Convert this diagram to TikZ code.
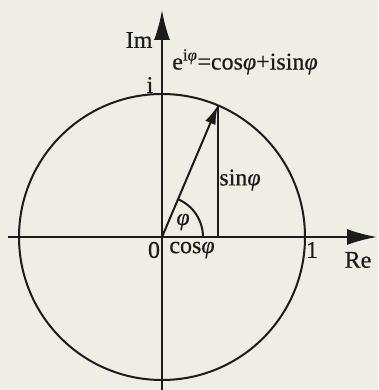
\documentclass[tikz,border=0pt]{standalone}
\usepackage{fontspec}
\setmainfont{Liberation Serif}[FakeBold=0.5]
\usetikzlibrary{arrows.meta}

\definecolor{paper}{RGB}{239,238,228}
\definecolor{ink}{RGB}{28,28,28}

\tikzset{
  axis/.style={ink, -{Latex[length=30pt,width=16pt]}},
  vec/.style={ink, -{Latex[length=19pt,width=11pt]}},
  lbl/.style={text=ink, inner sep=0pt}
}

\begin{document}
\begin{tikzpicture}[x=1pt, y=1pt, line width=2pt, font=\fontsize{24}{28}\selectfont]
  % Canvas
  \fill[paper] (-162,-153) rectangle (216,237);
  \useasboundingbox (-162,-153) rectangle (216,237);

  % Points
  \coordinate (O) at (0,0);
  \coordinate (P) at (67:143);
  \coordinate (F) at (P |- O);
  \coordinate (W) at (-154,0);
  \coordinate (E) at (215,0);
  \coordinate (S) at (0,-153);
  \coordinate (N) at (0,227);

  % Unit circle and axes
  \draw[ink] (O) circle[radius=143];
  \draw[axis] (W) -- (E);
  \draw[axis] (S) -- (N);

  % Vector, projection and angle
  \draw[vec] (O) -- (P);
  \draw[ink] (P) -- (F);
  \draw[ink] (O) ++(41,0) arc[start angle=0, end angle=67, radius=41];

  % Labels
  \node[lbl] (im) at (-23,197) {Im};
  \node[lbl] (re) at (196,-23) {Re};
  \node[lbl] (unit) at (-12,152) {i};
  \node[lbl] (zero) at (-8,-13) {0};
  \node[lbl] (one) at (150,-13) {1};
  \node[lbl] (cosl) at (30,-13) {cos\textit{φ}};
  \node[lbl] (sinl) at (78,57) {sin\textit{φ}};
  \node[lbl] (phi) at (21,15) {\textit{φ}};
  \node[lbl] (euler) at (83,175) {e\textsuperscript{i\textit{φ}}=cos\textit{φ}+isin\textit{φ}};
\end{tikzpicture}
\end{document}
